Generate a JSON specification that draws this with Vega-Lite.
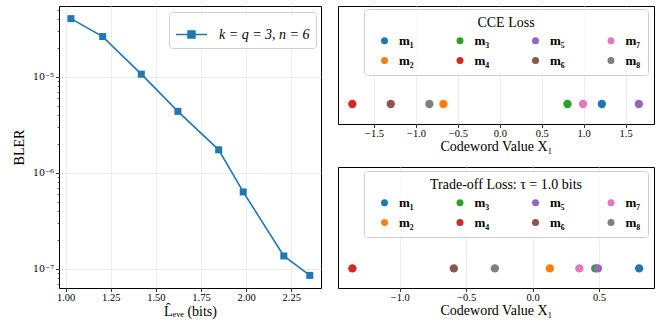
{
  "$schema": "https://vega.github.io/schema/vega-lite/v6.json",
  "padding": {"left": 12, "top": 5, "right": 5, "bottom": 5},
  "background": "white",
  "config": {
    "font": "Liberation Serif",
    "view": {"stroke": "black", "strokeWidth": 1},
    "axis": {
      "domain": false, "tickColor": "black", "tickSize": 3.5, "tickWidth": 0.8,
      "labelFont": "Liberation Serif", "labelFontSize": 10.5, "labelColor": "black",
      "titleFont": "Liberation Serif", "titleFontSize": 14, "titleFontWeight": "normal", "titleColor": "black",
      "gridColor": "#e8e8e8", "gridWidth": 0.8, "labelPadding": 2
    },
    "legend": {
      "labelFont": "Liberation Serif", "titleFont": "Liberation Serif",
      "labelColor": "black", "titleColor": "black",
      "fillColor": "rgba(255,255,255,0.8)", "strokeColor": "#d0d0d0", "cornerRadius": 3
    }
  },
  "spacing": 17,
  "bounds": "flush",
  "hconcat": [
    {
      "width": 262,
      "height": 282,
      "data": {"values": [
        {"L": 1.029, "BLER": 4.06e-5, "series": "k = q = 3, n = 6"},
        {"L": 1.205, "BLER": 2.64e-5, "series": "k = q = 3, n = 6"},
        {"L": 1.419, "BLER": 1.07e-5, "series": "k = q = 3, n = 6"},
        {"L": 1.622, "BLER": 4.38e-6, "series": "k = q = 3, n = 6"},
        {"L": 1.848, "BLER": 1.74e-6, "series": "k = q = 3, n = 6"},
        {"L": 1.984, "BLER": 6.33e-7, "series": "k = q = 3, n = 6"},
        {"L": 2.209, "BLER": 1.36e-7, "series": "k = q = 3, n = 6"},
        {"L": 2.353, "BLER": 8.53e-8, "series": "k = q = 3, n = 6"}
      ]},
      "resolve": {"axis": {"y": "independent"}},
      "layer": [
        {
          "mark": {"type": "line", "strokeWidth": 1.6},
          "encoding": {
            "x": {"field": "L", "type": "quantitative", "scale": {"domain": [0.963, 2.415], "nice": false, "zero": false},
              "axis": {"values": [1, 1.25, 1.5, 1.75, 2, 2.25], "format": ".2f", "title": "L̂ₑᵥₑ (bits)", "titlePadding": 1, "labelPadding": 1}},
            "y": {"field": "BLER", "type": "quantitative", "scale": {"type": "log", "domain": [6.3e-8, 5.5e-5], "nice": false},
              "axis": {"values": [1e-7, 1e-6, 1e-5], "labelExpr": "datum.value < 5e-7 ? '10⁻⁷' : datum.value < 5e-6 ? '10⁻⁶' : '10⁻⁵'", "labelFont": "DejaVu Serif", "labelFontSize": 9.5, "title": "BLER", "titlePadding": 6}},
            "color": {"field": "series", "type": "nominal", "scale": {"domain": ["k = q = 3, n = 6"], "range": ["#1f77b4"]},
              "legend": {"title": null, "orient": "none", "legendX": 110, "legendY": 6, "padding": 6,
                "symbolType": "M-1,0L1,0M-0.22,-0.22L0.22,-0.22L0.22,0.22L-0.22,0.22Z", "symbolSize": 961,
                "symbolStrokeWidth": 1.6, "symbolFillColor": "#1f77b4", "symbolStrokeColor": "#1f77b4",
                "labelFontSize": 14, "labelFontStyle": "italic", "labelOffset": 11}}
          }
        },
        {
          "mark": {"type": "point", "shape": "square", "filled": true, "size": 49, "opacity": 1},
          "encoding": {
            "x": {"field": "L", "type": "quantitative"},
            "y": {"field": "BLER", "type": "quantitative",
              "axis": {"orient": "left", "values": [7e-8, 8e-8, 9e-8, 2e-7, 3e-7, 4e-7, 5e-7, 6e-7, 7e-7, 8e-7, 9e-7, 2e-6, 3e-6, 4e-6, 5e-6, 6e-6, 7e-6, 8e-6, 9e-6, 2e-5, 3e-5, 4e-5, 5e-5], "labels": false, "grid": false, "tickSize": 2, "tickWidth": 0.6, "title": null}},
            "color": {"field": "series", "type": "nominal",
              "legend": {"title": null, "orient": "none", "legendX": 110, "legendY": 6, "padding": 6,
                "symbolType": "M-1,0L1,0M-0.22,-0.22L0.22,-0.22L0.22,0.22L-0.22,0.22Z", "symbolSize": 961,
                "symbolStrokeWidth": 1.6, "symbolFillColor": "#1f77b4", "symbolStrokeColor": "#1f77b4",
                "labelFontSize": 14, "labelFontStyle": "italic", "labelOffset": 11}}
          }
        }
      ]
    },
    {
      "spacing": 43,
      "bounds": "flush",
      "resolve": {"scale": {"color": "independent"}, "legend": {"color": "independent"}},
      "vconcat": [
        {
          "width": 316,
          "height": 118,
          "data": {"values": [
            {"x": 1.217, "y": 0, "m": "m₁"},
            {"x": -0.673, "y": 0, "m": "m₂"},
            {"x": 0.807, "y": 0, "m": "m₃"},
            {"x": -1.759, "y": 0, "m": "m₄"},
            {"x": 1.658, "y": 0, "m": "m₅"},
            {"x": -1.301, "y": 0, "m": "m₆"},
            {"x": 0.993, "y": 0, "m": "m₇"},
            {"x": -0.840, "y": 0, "m": "m₈"}
          ]},
          "mark": {"type": "circle", "size": 70, "opacity": 1},
          "encoding": {
            "x": {"field": "x", "type": "quantitative", "scale": {"domain": [-1.93, 1.839], "nice": false, "zero": false},
              "axis": {"values": [-1.5, -1, -0.5, 0, 0.5, 1, 1.5], "labelExpr": "replace(format(datum.value, '.1f'), '-', '−')", "title": "Codeword Value X₁", "labelPadding": 1, "titlePadding": 0}},
            "y": {"field": "y", "type": "quantitative", "scale": {"domain": [-0.2, 0.98], "nice": false, "zero": false}, "axis": null},
            "color": {"field": "m", "type": "nominal",
              "scale": {"domain": ["m₁", "m₂", "m₃", "m₄", "m₅", "m₆", "m₇", "m₈"],
                "range": ["#1f77b4", "#ff7f0e", "#2ca02c", "#d62728", "#9467bd", "#8c564b", "#e377c2", "#7f7f7f"]},
              "legend": {"title": "CCE Loss", "orient": "none", "legendX": 26, "legendY": 3, "columns": 4,
                "titleAnchor": "middle", "titleFontSize": 14, "titleFontWeight": "normal", "titlePadding": 4,
                "labelFontSize": 13, "labelFontWeight": "bold", "symbolType": "circle", "symbolSize": 49,
                "symbolOpacity": 1, "padding": 7, "symbolOffset": 7, "labelOffset": 8, "gridAlign": "all",
                "columnPadding": 32.5, "rowPadding": 6}}
          }
        },
        {
          "width": 316,
          "height": 121,
          "data": {"values": [
            {"x": 0.802, "y": 0, "m": "m₁"},
            {"x": 0.130, "y": 0, "m": "m₂"},
            {"x": 0.472, "y": 0, "m": "m₃"},
            {"x": -1.357, "y": 0, "m": "m₄"},
            {"x": 0.492, "y": 0, "m": "m₅"},
            {"x": -0.593, "y": 0, "m": "m₆"},
            {"x": 0.352, "y": 0, "m": "m₇"},
            {"x": -0.284, "y": 0, "m": "m₈"}
          ]},
          "mark": {"type": "circle", "size": 70, "opacity": 1},
          "encoding": {
            "x": {"field": "x", "type": "quantitative", "scale": {"domain": [-1.465, 0.914], "nice": false, "zero": false},
              "axis": {"values": [-1, -0.5, 0, 0.5], "labelExpr": "replace(format(datum.value, '.1f'), '-', '−')", "title": "Codeword Value X₁", "labelPadding": 1, "titlePadding": 0}},
            "y": {"field": "y", "type": "quantitative", "scale": {"domain": [-0.2, 1.035], "nice": false, "zero": false}, "axis": null},
            "color": {"field": "m", "type": "nominal",
              "scale": {"domain": ["m₁", "m₂", "m₃", "m₄", "m₅", "m₆", "m₇", "m₈"],
                "range": ["#1f77b4", "#ff7f0e", "#2ca02c", "#d62728", "#9467bd", "#8c564b", "#e377c2", "#7f7f7f"]},
              "legend": {"title": "Trade-off Loss: τ = 1.0 bits", "orient": "none", "legendX": 26, "legendY": 4, "columns": 4,
                "titleAnchor": "middle", "titleFontSize": 14, "titleFontWeight": "normal", "titlePadding": 4,
                "labelFontSize": 13, "labelFontWeight": "bold", "symbolType": "circle", "symbolSize": 49,
                "symbolOpacity": 1, "padding": 7, "symbolOffset": 7, "labelOffset": 8, "gridAlign": "all",
                "columnPadding": 32.5, "rowPadding": 6}}
          }
        }
      ]
    }
  ],
  "resolve": {"scale": {"color": "independent"}, "legend": {"color": "independent"}}
}
